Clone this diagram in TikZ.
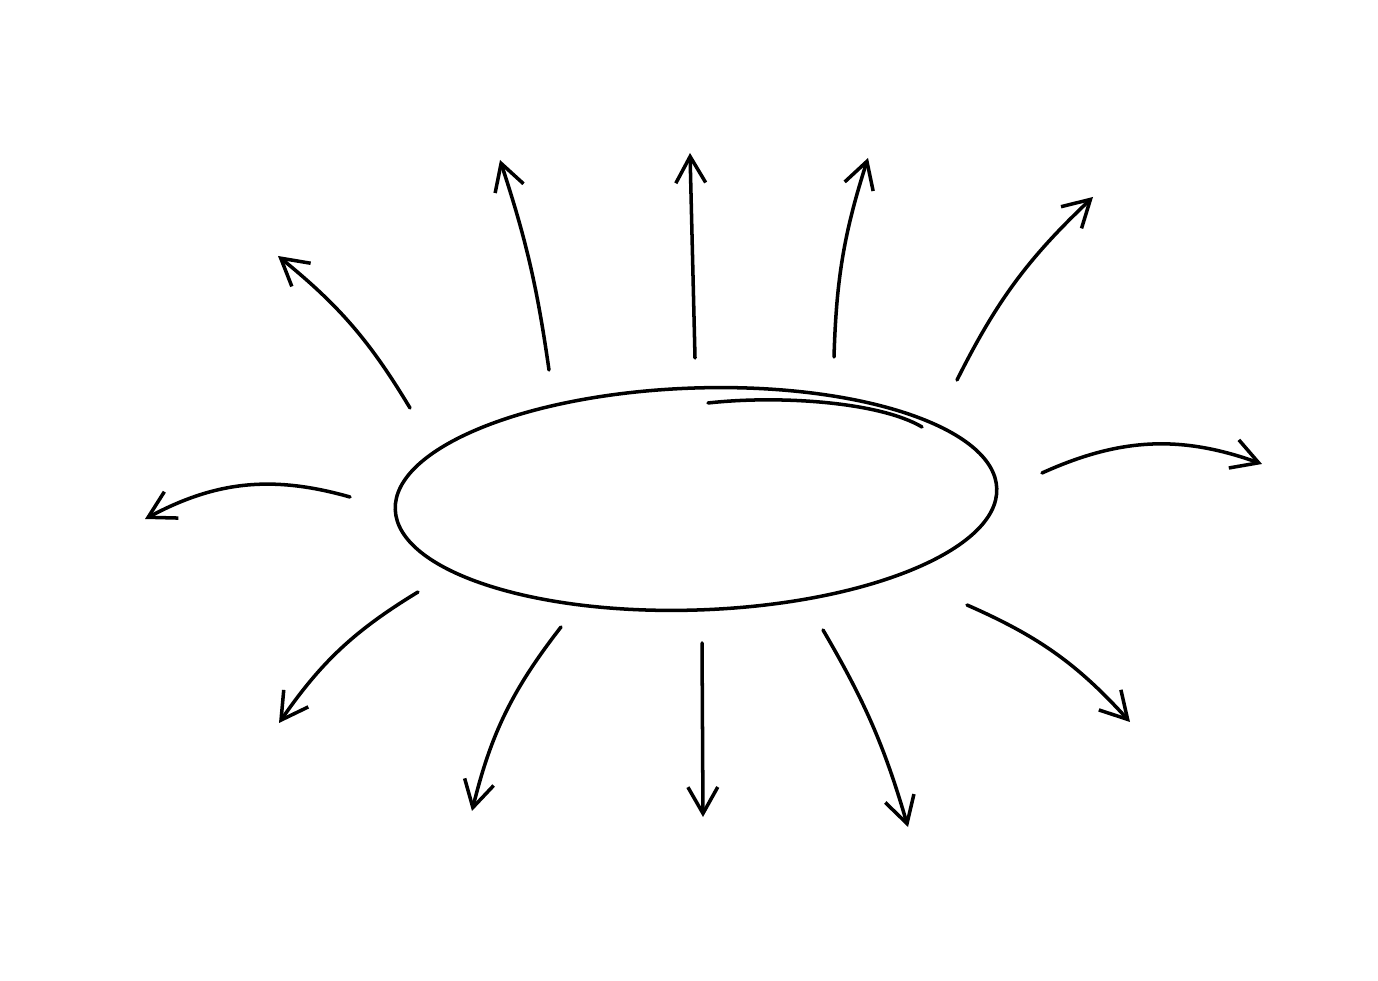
\documentclass[tikz,border=0pt]{standalone}
\usetikzlibrary{arrows.meta,shapes.geometric}
\begin{document}
\begin{tikzpicture}[%
                x=0.02cm, y=0.02cm,
                myline/.style={line width=2pt, line cap=round, color=black},
                myarrow/.style={myline, -{Straight Barb[length=15pt,width=17pt,line width=2pt]}}
        ]
            \useasboundingbox (0,0) rectangle (1378,980);
            \node [myline, draw, shape=ellipse, inner sep=0pt, minimum width=12.04cm,
                   minimum height=4.44cm, rotate=2] (blob) at (696,481) {};
            \draw [myline] (708,577) .. controls (780,585) and (880,578) .. (922,553);
            \foreach \myi/\mysx/\mysy/\myex/\myey/\mybend in {%
                1/410/572/278/724/-10, 2/549/610/500/820/-5, 3/695/622/690/827/0,
                4/834/623/868/822/8, 5/957/600/1093/783/10, 6/1042/507/1262/516/22,
                7/350/483/145/461/-22, 8/418/388/279/257/-12, 9/561/353/472/169/-12,
                10/702/337/703/163/0, 11/823/350/908/153/7, 12/967/375/1130/258/12} {
                \coordinate (s\myi) at (\mysx,\mysy);
                \coordinate (e\myi) at (\myex,\myey);
                \draw [myarrow] (s\myi) to [bend left=\mybend] (e\myi);
            }
        \end{tikzpicture}
\end{document}
